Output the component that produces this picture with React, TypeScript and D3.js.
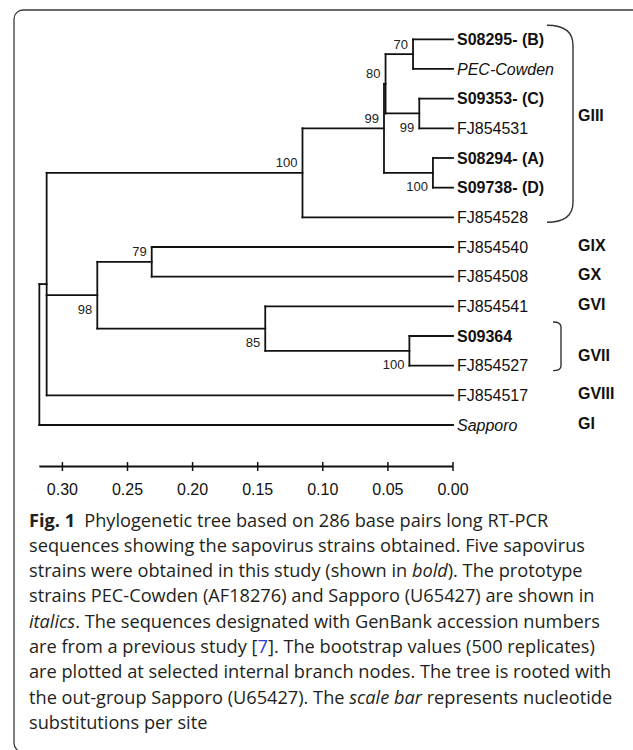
import React from "react";
import * as d3 from "d3";

// ---- data ----
const leafNames = [
  "S08295- (B)", "PEC-Cowden", "S09353- (C)", "FJ854531", "S08294- (A)", "S09738- (D)", "FJ854528",
  "FJ854540", "FJ854508", "FJ854541", "S09364", "FJ854527", "FJ854517", "Sapporo",
];
const leafStyles = [
  "bold", "italic", "bold", "normal", "bold", "bold", "normal",
  "normal", "normal", "normal", "bold", "normal", "normal", "italic",
];
const nodeIds = ["root", "X", "n100a", "n99a", "n80", "n70", "n99b", "n100b", "n98", "n79", "n85", "n100c"];
const nodeHeights = [0.3177, 0.3121, 0.1156, 0.053, 0.0518, 0.0307, 0.0259, 0.0154, 0.2732, 0.2314, 0.1442, 0.0335];
const nodeBootstrap = [null, null, 100, 99, 80, 70, 99, 100, 98, 79, 85, 100];
const nodeLabelSide = ["", "", "above", "above", "above", "above", "below", "below", "below", "above", "below", "below"];
const nodeChildren = [
  ["X", "Sapporo"],
  ["n100a", "n98", "FJ854517"],
  ["n99a", "FJ854528"],
  ["n80", "n100b"],
  ["n70", "n99b"],
  ["S08295- (B)", "PEC-Cowden"],
  ["S09353- (C)", "FJ854531"],
  ["S08294- (A)", "S09738- (D)"],
  ["n79", "n85"],
  ["FJ854540", "FJ854508"],
  ["FJ854541", "n100c"],
  ["S09364", "FJ854527"],
];
const groupNames = ["GIII", "GIX", "GX", "GVI", "GVII", "GVIII", "GI"];
const groupFrom = [0, 7, 8, 9, 10, 12, 13];
const groupTo = [6, 7, 8, 9, 11, 12, 13];
const tickValues = [0.3, 0.25, 0.2, 0.15, 0.1, 0.05, 0.0];

const captionLines: { text: string; style?: string }[][] = [
  [{ text: "Fig. 1", style: "bold" }, { text: "\u2002Phylogenetic tree based on 286 base pairs long RT-PCR" }],
  [{ text: "sequences showing the sapovirus strains obtained. Five sapovirus" }],
  [{ text: "strains were obtained in this study (shown in " }, { text: "bold", style: "italic" }, { text: "). The prototype" }],
  [{ text: "strains PEC-Cowden (AF18276) and Sapporo (U65427) are shown in" }],
  [{ text: "italics", style: "italic" }, { text: ". The sequences designated with GenBank accession numbers" }],
  [{ text: "are from a previous study [" }, { text: "7", style: "link" }, { text: "]. The bootstrap values (500 replicates)" }],
  [{ text: "are plotted at selected internal branch nodes. The tree is rooted with" }],
  [{ text: "the out-group Sapporo (U65427). The " }, { text: "scale bar", style: "italic" }, { text: " represents nucleotide" }],
  [{ text: "substitutions per site" }],
];

type TNode = { id: string; h: number; bs: number | null; side: string; leaf: number; children?: TNode[] };

function buildTree(): TNode {
  const make = (id: string): TNode => {
    const li = leafNames.indexOf(id);
    if (li >= 0) return { id, h: 0, bs: null, side: "", leaf: li };
    const ni = nodeIds.indexOf(id);
    return {
      id,
      h: nodeHeights[ni],
      bs: nodeBootstrap[ni],
      side: nodeLabelSide[ni],
      leaf: -1,
      children: nodeChildren[ni].map(make),
    };
  };
  return make("root");
}

const W = 633;
const H = 750;
const LABEL_FONT = "'Liberation Sans', Arial, sans-serif";
const CAPTION_FONT = "'Open Sans', sans-serif";

export default function App() {
  const x = d3.scaleLinear().domain([0.3, 0]).range([62.4, 453]);
  const y = d3.scaleLinear().domain([0, leafNames.length - 1]).range([39.3, 425]);

  const root = d3.hierarchy<TNode>(buildTree(), (d) => d.children);
  const yPos = new Map<any, number>();
  root.eachAfter((n) => {
    if (!n.children) yPos.set(n, y(n.data.leaf));
    else yPos.set(n, (yPos.get(n.children[0])! + yPos.get(n.children[n.children.length - 1])!) / 2);
  });

  const branches: any[] = [];
  const labels: any[] = [];
  root.each((n) => {
    const nx = x(n.data.h);
    const ny = yPos.get(n)!;
    if (n.children) {
      const y0 = yPos.get(n.children[0])!;
      const y1 = yPos.get(n.children[n.children.length - 1])!;
      branches.push(<line key={"v" + n.data.id} x1={nx} x2={nx} y1={y0} y2={y1} />);
      n.children.forEach((c) => {
        const cy = yPos.get(c)!;
        branches.push(<line key={"h" + c.data.id} x1={nx} x2={x(c.data.h)} y1={cy} y2={cy} />);
      });
      if (n.data.bs != null) {
        labels.push(
          <text
            key={"bs" + n.data.id}
            x={nx - 5}
            y={n.data.side === "above" ? ny - 10 : ny + 14}
            dy="0.35em"
            textAnchor="end"
            fontSize={13}
            fill="#222"
          >
            {n.data.bs}
          </text>
        );
      }
    }
  });

  const rootH = root.data.h;

  return (
    <svg width={W} height={H} style={{ position: "absolute", left: 0, top: 0, background: "#fff" }} fontFamily={LABEL_FONT}>
      <rect x={14} y={10} width={W + 40} height={742} rx={9} ry={9} fill="none" stroke="#3a3a3a" strokeWidth={1.3} />
      <g stroke="#111" strokeWidth={1.8} strokeLinecap="square">
        {branches}
      </g>
      {labels}
      {leafNames.map((name, i) => (
        <text
          key={name}
          x={457}
          y={y(i)}
          dy="0.35em"
          fontSize={16}
          fontWeight={leafStyles[i] === "bold" ? "bold" : "normal"}
          fontStyle={leafStyles[i] === "italic" ? "italic" : "normal"}
          fill="#111"
        >
          {name}
        </text>
      ))}
      <g fill="none" stroke="#333" strokeWidth={1.4}>
        {groupNames.map((g, gi) => {
          if (groupFrom[gi] === groupTo[gi]) return null;
          const yt = y(groupFrom[gi]) - 14;
          const yb = y(groupTo[gi]) + 5;
          const big = groupTo[gi] - groupFrom[gi] > 2;
          const x0 = big ? 547 : 553;
          const x1 = big ? 573 : 561;
          const r = big ? 20 : 5;
          return (
            <path
              key={"br" + g}
              d={`M${x0},${yt} C${x0 + (x1 - x0) * 0.65},${yt} ${x1},${yt + r * 0.35} ${x1},${yt + r} V${yb - r} C${x1},${yb - r * 0.35} ${x0 + (x1 - x0) * 0.65},${yb} ${x0},${yb}`}
            />
          );
        })}
      </g>
      {groupNames.map((g, gi) => {
        const single = groupFrom[gi] === groupTo[gi];
        const mid = (y(groupFrom[gi]) + y(groupTo[gi])) / 2;
        const gy = single ? mid - 2 : gi === 0 ? mid - 13 : mid + 5;
        return (
          <text key={g} x={578} y={gy} dy="0.35em" fontSize={16} fontWeight="bold" fill="#111">
            {g}
          </text>
        );
      })}
      <g stroke="#111">
        <line x1={x(rootH)} x2={x(0)} y1={466.5} y2={466.5} strokeWidth={1.8} />
        {tickValues.map((t) => (
          <line key={t} x1={x(t)} x2={x(t)} y1={462} y2={471} strokeWidth={1.5} />
        ))}
      </g>
      {tickValues.map((t) => (
        <text key={"t" + t} x={x(t)} y={489} dy="0.35em" textAnchor="middle" fontSize={16} fill="#111">
          {d3.format(".2f")(t)}
        </text>
      ))}
      <g fontFamily={CAPTION_FONT} fontSize={18.2} fill="#231f20">
        {captionLines.map((segs, li) => (
          <text key={li} x={29} y={526.5 + li * 25.3}>
            {segs.map((s, si) => (
              <tspan
                key={si}
                fontWeight={s.style === "bold" ? "bold" : "normal"}
                fontStyle={s.style === "italic" ? "italic" : "normal"}
                fill={s.style === "link" ? "#2b3bd1" : undefined}
              >
                {s.text}
              </tspan>
            ))}
          </text>
        ))}
      </g>
    </svg>
  );
}
